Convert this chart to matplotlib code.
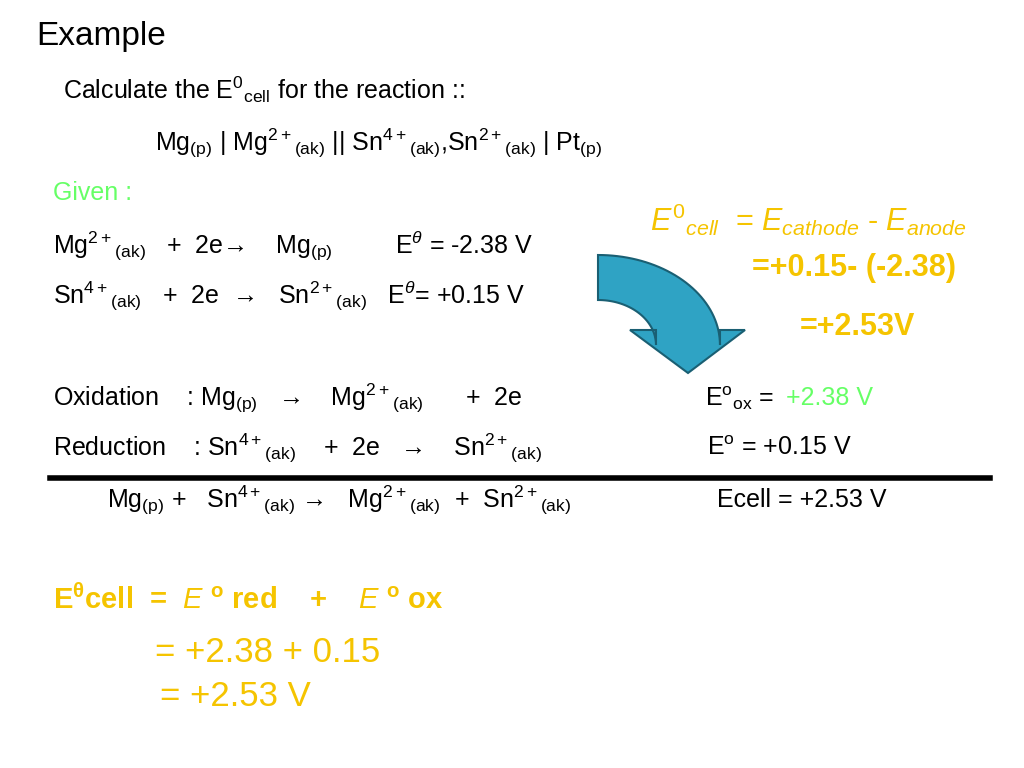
import matplotlib
matplotlib.use("Agg")
import matplotlib.pyplot as plt
import numpy as np
from matplotlib.patches import Polygon

plt.rcParams["font.family"] = "Liberation Sans"
plt.rcParams["mathtext.fontset"] = "custom"
plt.rcParams["mathtext.rm"] = "Liberation Sans"
plt.rcParams["mathtext.it"] = "Liberation Sans:italic"
plt.rcParams["mathtext.bf"] = "Liberation Sans:bold"

BLACK = "black"
GOLD = "#F5C400"
GREEN = "#66FF66"

# slide text: (text, size, colour, weight)
title = ("Example", 24, BLACK, "normal")
question = [
    (r"Calculate the E$^{0}$$_{\rm cell}$ for the reaction ::", 18, BLACK, "normal"),
    (r"Mg$_{\rm (p)}$ | Mg$^{\rm 2+}$$_{\rm (ak)}$ || Sn$^{\rm 4+}$$_{\rm (ak)}$,Sn$^{\rm 2+}$$_{\rm (ak)}$ | Pt$_{\rm (p)}$", 18, BLACK, "normal"),
]
given = [
    ("Given :", 18, GREEN, "normal"),
    (r"Mg$^{\rm 2+}$$_{\rm (ak)}$   +  2e→    Mg$_{\rm (p)}$         E$^{\theta}$ = -2.38 V", 18, BLACK, "normal"),
    (r"Sn$^{\rm 4+}$$_{\rm (ak)}$   +  2e  →   Sn$^{\rm 2+}$$_{\rm (ak)}$   E$^{\theta}$= +0.15 V", 18, BLACK, "normal"),
]
half = [
    (r"Oxidation    : Mg$_{\rm (p)}$   →    Mg$^{\rm 2+}$$_{\rm (ak)}$      +  2e", r"E$^{\rm o}$$_{\rm ox}$ = ", "+2.38 V", GREEN),
    (r"Reduction    : Sn$^{\rm 4+}$$_{\rm (ak)}$    +  2e   →    Sn$^{\rm 2+}$$_{\rm (ak)}$", r"E$^{\rm o}$ = +0.15 V", "", BLACK),
]
overall = (r"Mg$_{\rm (p)}$ +   Sn$^{\rm 4+}$$_{\rm (ak)}$ →   Mg$^{\rm 2+}$$_{\rm (ak)}$  +  Sn$^{\rm 2+}$$_{\rm (ak)}$", "Ecell = +2.53 V")
right_calc = [
    (r"$\it{E^{0}{}_{cell}}$  = $\it{E_{cathode}}$ - $\it{E_{anode}}$", 22, GOLD, "normal"),
    ("=+0.15- (-2.38)", 22, GOLD, "bold"),
    ("=+2.53V", 22, GOLD, "bold"),
]
bottom_calc = [
    (r"$\bf{E^{\theta}cell}$  =  $\bf{\it{E}}$ $\bf{^{o}}$ red    +    $\bf{\it{E}}$ $\bf{^{o}}$ ox", 21, GOLD, "bold"),
    ("= +2.38 + 0.15", 25, GOLD, "normal"),
    ("= +2.53 V", 25, GOLD, "normal"),
]

fig = plt.figure(figsize=(10.24, 7.68), dpi=100)
ax = fig.add_axes([0, 0, 1, 1])
ax.set_xlim(0, 1024)
ax.set_ylim(768, 0)
ax.axis("off")


def put(x, y, item, **kw):
    s, size, col, w = item
    ax.text(x, y, s, fontsize=size, color=col, fontweight=w, va="center", ha="left", **kw)


put(36, 37, title)
put(63, 90, question[0])
put(155, 143, question[1])
put(53, 193, given[0])
put(53, 245, given[1])
put(53, 295, given[2])

for i, (eq, lab, val, col) in enumerate(half):
    y = 398 + 50 * i
    put(53, y, (eq, 18, BLACK, "normal"))
    x0 = 705 if i == 0 else 707
    ax.text(x0, y, lab, fontsize=18, color=BLACK, va="center")
    if val:
        ax.text(786, y, val, fontsize=18, color=col, va="center")

ax.plot([50, 990], [478, 478], color="black", lw=4)
put(107, 500, (overall[0], 18, BLACK, "normal"))
put(717, 500, (overall[1], 18, BLACK, "normal"))

put(650, 220, right_calc[0])
put(752, 268, right_calc[1])
put(800, 327, right_calc[2])

put(53, 600, bottom_calc[0])
put(155, 652, bottom_calc[1])
put(160, 697, bottom_calc[2])

# curved arrow
t = np.linspace(np.pi / 2, 0, 40)
cx, cy = 598, 345
outer = np.c_[cx + 122 * np.cos(t), cy - 90 * np.sin(t)]
inner = np.c_[cx + 58 * np.cos(t[::-1]), cy - 45 * np.sin(t[::-1])]
head = np.array([[720, 330], [745, 330], [688, 373], [630, 330], [656, 330]])
pts = np.vstack([outer, head, inner])
ax.add_patch(Polygon(pts, closed=True, facecolor="#2FA3C4", edgecolor="#1A5F73", lw=1.5))

fig.savefig("out.png", dpi=100)
